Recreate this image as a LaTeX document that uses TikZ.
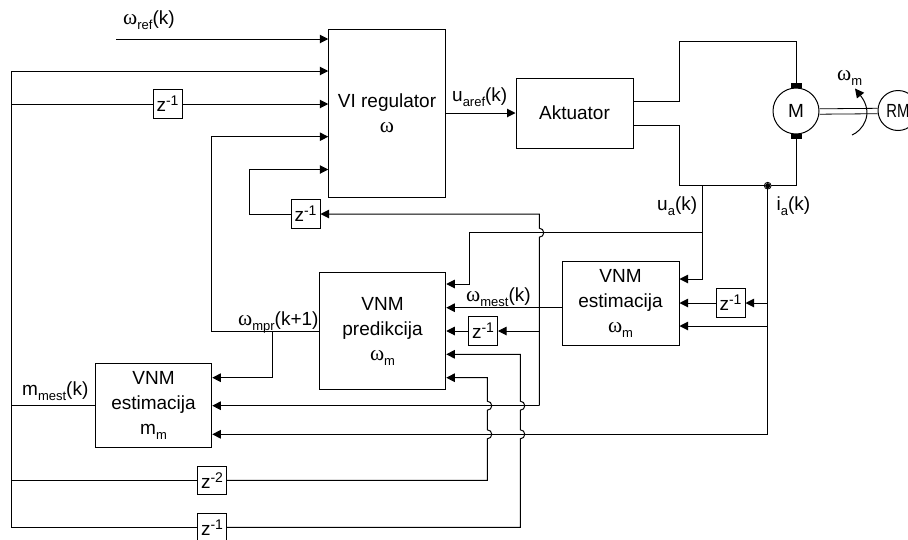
\documentclass[tikz,border=0pt]{standalone}
\usepackage{fontspec}
\setmainfont{Liberation Sans}
\newfontfamily\omegafont{Liberation Serif}
\usetikzlibrary{arrows.meta}
\newcommand{\om}{{\fontsize{21.5}{21.5}\omegafont\selectfont ω}}
\newcommand{\sbs}[1]{\raisebox{-5pt}{\fontsize{13}{13}\selectfont #1}}
\newcommand{\zinv}[1]{z\raisebox{6pt}{\fontsize{14}{14}\selectfont -#1}}
\newcommand{\hopr}{arc[start angle=-90,end angle=90,radius=4.5pt]}
\tikzset{
  wire/.style={draw=black,line width=1pt},
  arr/.style={wire,-{Triangle[length=8.5pt,width=8.5pt]}},
  blockbox/.style={draw=black,line width=1pt,fill=white,inner sep=0pt,align=center,
    font=\fontsize{19}{25}\selectfont},
  zbox/.style={blockbox,minimum width=29pt,minimum height=28.5pt},
  lab/.style={anchor=base west,inner sep=0pt,font=\fontsize{19}{23}\selectfont},
  brush/.style={fill=black,draw=none,minimum width=11pt,minimum height=5.5pt,inner sep=0pt},
  mach/.style={circle,draw=black,line width=1pt,fill=white,inner sep=0pt,
    font=\fontsize{19}{23}\selectfont}
}
\begin{document}
\begin{tikzpicture}[x=1pt,y=-1pt]
\clip (0,0) rectangle (908,539);
% blocks
\node[blockbox,minimum width=116.5pt,minimum height=167.5pt] (vi) at (387,113.5) {VI regulator\\[0pt]\om};
\node[blockbox,minimum width=117pt,minimum height=70pt] (akt) at (574.5,113) {Aktuator};
\node[blockbox,minimum width=117pt,minimum height=84pt] (vest) at (620.5,303) {VNM\\estimacija\\\om\sbs{m}};
\node[blockbox,minimum width=126.5pt,minimum height=117.5pt] (pred) at (382.5,331) {VNM\\predikcija\\\om\sbs{m}};
\node[blockbox,minimum width=116.5pt,minimum height=84pt] (mest) at (153.5,405.7) {VNM\\estimacija\\m\sbs{m}};
\node[zbox] (z1) at (167.5,104) {\zinv{1}};
\node[zbox] (z2) at (305.5,214) {\zinv{1}};
\node[zbox] (z3) at (730.5,303) {\zinv{1}};
\node[zbox] (z4) at (483,331) {\zinv{1}};
\node[zbox] (z5) at (212,480.4) {\zinv{2}};
\node[zbox] (z6) at (212,527.3) {\zinv{1}};
% motor
\node[mach,minimum size=46pt] (m) at (796,111) {M};
\node[mach,minimum size=40pt] (rm) at (898,110.5) {\scalebox{0.78}[1]{RM}};
\node[brush] (bt) at (796,85.5) {};
\node[brush] (bb) at (796,136.5) {};
\draw[wire,line width=0.8pt] ([yshift=2.2pt]m.east) -- ([yshift=2.2pt]rm.west);
\draw[wire,line width=0.8pt] ([yshift=-3.2pt]m.east) -- ([yshift=-3.2pt]rm.west);
\coordinate (rotA) at (852,135);
\coordinate (rotB) at (855,88.5);
\draw[wire,-{Triangle[length=9pt,width=9pt]}] (rotA) .. controls (862,131) and (875,114) .. (rotB);
% junction coordinates
\coordinate (jf) at (11,71);
\coordinate (jb) at (11,527.3);
\coordinate (ju) at (702,185.7);
\coordinate (ji) at (767.7,185.7);
\coordinate (ju2) at (702,232.7);
\coordinate (jiz) at (767.7,303);
\coordinate (jil) at (767.7,326);
\coordinate (jib) at (767.7,434.3);
\coordinate (wr) at (116,39);
\coordinate (jm) at (272.7,331);
\coordinate (jp) at (211,331);
% power circuit
\draw[wire] (akt.east |- 0,101.7) -- (679,101.7) -- (679,41) -- (796,41) -- (bt.north);
\draw[wire] (akt.east |- 0,125) -- (679,125) -- (679,185.7) -- (796,185.7) -- (bb.south);
\draw[black,line width=0.8pt,fill=white] (ji) circle (3.4pt);
\fill[black] (ji) circle (2.6pt);
% inputs of regulator
\draw[arr] (wr) -- (wr -| vi.west);
\draw[arr] (jf) -- (jf -| vi.west);
\draw[wire] (jf) -- (jb);
\draw[wire] (11,104) -- (z1.west);
\draw[arr] (z1.east) -- (z1.east -| vi.west);
\draw[arr] (pred.west |- jp) -- (jp) -- (211,136.7) -- (vi.west |- 0,136.7);
\draw[arr] (z2.west) -- (249,214) -- (249,169.5) -- (vi.west |- 0,169.5);
\draw[arr] (jm) -- (272.7,377.7) -- (mest.east |- 0,377.7);
% regulator to actuator
\draw[arr] (vi.east |- akt.west) -- (akt.west);
% u_a
\draw[arr] (ju) -- (702,279) -- (vest.east |- 0,279);
\draw[arr] (ju2) -- (469,232.7) -- (469,284) -- (pred.east |- 0,284);
% i_a
\draw[wire] (ji) -- (jib);
\draw[arr] (jiz) -- (z3.east);
\draw[arr] (z3.west) -- (vest.east |- z3.west);
\draw[arr] (jil) -- (vest.east |- jil);
\draw[arr] (jib) -- (mest.east |- jib);
% estimator output
\draw[arr] (vest.west |- 0,307.7) -- (pred.east |- 0,307.7);
\draw[arr] (539.3,331) -- (z4.east);
\draw[arr] (z4.west) -- (pred.east |- z4.west);
% omega_mest feedback with hop
\draw[arr] (539.3,405.7) -- (539.3,237.2) \hopr -- (539.3,214) -- (z2.east);
\draw[arr] (539.3,405.7) -- (mest.east |- 0,405.7);
% m_mest
\draw[wire] (mest.west) -- (mest.west -| jf);
% delayed lines
\draw[wire] (11,480.4) -- (z5.west);
\draw[wire] (jb) -- (z6.west);
\draw[arr] (z5.east) -- (487.3,480.4) -- (487.3,438.8) \hopr -- (487.3,410.2) \hopr -- (487.3,377.7) -- (pred.east |- 0,377.7);
\draw[arr] (z6.east) -- (520.3,527.3) -- (520.3,438.8) \hopr -- (520.3,410.2) \hopr -- (520.3,354.3) -- (pred.east |- 0,354.3);
% labels
\node[lab] (l1) at (123,24) {\om\sbs{ref}(k)};
\node[lab] (l2) at (452,101) {u\sbs{aref}(k)};
\node[lab] (l3) at (657,210) {u\sbs{a}(k)};
\node[lab] (l4) at (776.5,210) {i\sbs{a}(k)};
\node[lab] (l5) at (837,80) {\om\sbs{m}};
\node[lab] (l6) at (466,301.5) {\om\sbs{mest}(k)};
\node[lab] (l7) at (238,325) {\om\sbs{mpr}(k+1)};
\node[lab] (l8) at (22,395) {m\sbs{mest}(k)};
\end{tikzpicture}
\end{document}
